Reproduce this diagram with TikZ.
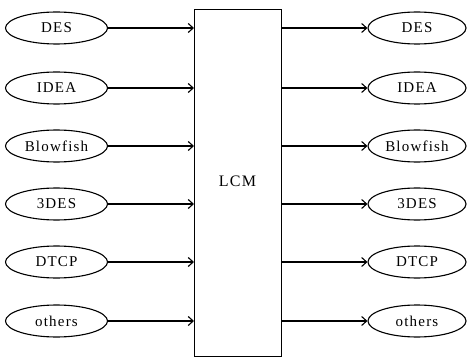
\documentclass[tikz,border=0pt]{standalone}
\usepackage{fontspec}
\setmainfont{Liberation Serif}[LetterSpace=8]
\usetikzlibrary{shapes.geometric,arrows.meta}
\begin{document}
\begin{tikzpicture}[x=1pt,y=-1pt,
  alg/.style={draw,ellipse,line width=1.1pt,minimum width=102pt,minimum height=32pt,inner sep=0pt,font=\fontsize{15}{17}\selectfont},
  conn/.style={draw,line width=1.1pt,-{Straight Barb[length=5pt,width=9pt,line width=1.1pt]}}]
\useasboundingbox (0,0) rectangle (468,358);
\node[draw,line width=1.1pt,minimum width=87pt,minimum height=347pt,inner sep=0pt,anchor=north west] (lcm) at (194,9) {};
\node[font=\fontsize{16}{18}\selectfont] (lcmt) at (237.5,181) {LCM};
\foreach \n/\t/\y in {1/DES/28,2/IDEA/88,3/Blowfish/146,4/3DES/204,5/DTCP/262,6/others/321}{
  \node[alg] (l\n) at (56.5,\y) {\t};
  \node[alg,minimum width=98pt] (r\n) at (417,\y) {\t};
  \coordinate (li\n) at (194,\y);
  \coordinate (ro\n) at (281,\y);
  \draw[conn] (l\n) -- (li\n);
  \draw[conn] (ro\n) -- (r\n);
}
\end{tikzpicture}
\end{document}
